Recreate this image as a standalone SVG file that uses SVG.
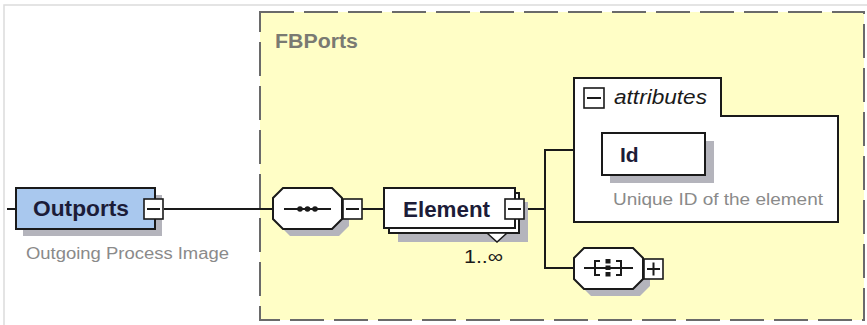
<svg xmlns="http://www.w3.org/2000/svg" width="867" height="325" viewBox="0 0 867 325">
<style>
.ln{stroke:#1a1a1a;stroke-width:2;fill:none}
.box{stroke:#1a1a1a;stroke-width:2;fill:#fff}
.shd{fill:#b4b4bc}
.lbl{font-family:"Liberation Sans",Arial,sans-serif;font-weight:bold;fill:#1c1c38}
.doc{font-family:"Liberation Sans",Arial,sans-serif;font-size:16px;fill:#8a8a8a}
.pm{stroke:#1a1a1a;stroke-width:1.6;fill:#fff}
</style>
<rect width="867" height="325" fill="#fff"/>
<path d="M4,325 V5 H867" stroke="#dcdcdc" stroke-width="1.5" fill="none"/>
<g id="FBPorts">
<rect x="260" y="12" width="604" height="308" fill="#fffec6" stroke="#6a6a6a" stroke-width="2" stroke-dasharray="34,10"/>
<text x="275" y="48" font-family="Liberation Sans,Arial,sans-serif" font-weight="bold" font-size="20" fill="#7a7a72" textLength="83" lengthAdjust="spacingAndGlyphs">FBPorts</text>
</g>
<g id="connectors">
<line class="ln" x1="7" y1="209" x2="16" y2="209"/>
<line class="ln" x1="164" y1="209" x2="273" y2="209"/>
<line class="ln" x1="362" y1="209" x2="384" y2="209"/>
<line class="ln" x1="525" y1="209" x2="545" y2="209"/>
<path class="ln" d="M574,150 H545 V268 H574"/>
</g>
<g id="Outports">
<rect class="shd" x="23" y="195" width="139" height="41"/>
<rect x="16" y="188" width="139" height="41" fill="#a9c8ee" stroke="#1a1a1a" stroke-width="2"/>
<text class="lbl" x="33" y="216" font-size="22" textLength="96" lengthAdjust="spacingAndGlyphs">Outports</text>
<rect class="pm" x="144" y="199" width="19" height="20"/>
<line class="ln" x1="147" y1="209" x2="160" y2="209" stroke-width="1.6"/>
<text class="doc" x="26" y="259" textLength="203" lengthAdjust="spacingAndGlyphs">Outgoing Process Image</text>
</g>
<g id="sequence">
<polygon class="shd" points="290,195 339,195 349,205 349,226 339,236 290,236 280,226 280,205"/>
<polygon class="box" points="283,188 332,188 342,198 342,219 332,229 283,229 273,219 273,198"/>
<line class="ln" x1="284" y1="209" x2="331" y2="209"/>
<circle cx="300" cy="209" r="2.8" fill="#1a1a1a"/>
<circle cx="307.5" cy="209" r="2.8" fill="#1a1a1a"/>
<circle cx="315" cy="209" r="2.8" fill="#1a1a1a"/>
<rect class="pm" x="343" y="199" width="19" height="20"/>
<line class="ln" x1="346" y1="209" x2="359" y2="209" stroke-width="1.6"/>
</g>
<g id="Element">
<rect class="shd" x="398" y="202" width="130" height="40"/>
<rect class="box" x="389" y="193" width="130" height="40"/>
<rect class="box" x="384" y="188" width="131" height="40"/>
<polygon points="487,233 507,233 497,242" fill="#fff" stroke="#1a1a1a" stroke-width="1.5"/>
<text class="lbl" x="403" y="217" font-size="22" textLength="87" lengthAdjust="spacingAndGlyphs">Element</text>
<rect class="pm" x="505" y="199" width="19" height="20"/>
<line class="ln" x1="508" y1="209" x2="521" y2="209" stroke-width="1.6"/>
<text x="464" y="263" font-family="Liberation Sans,Arial,sans-serif" font-size="19" fill="#1a1a1a" textLength="39" lengthAdjust="spacingAndGlyphs">1..∞</text>
</g>
<g id="attributes">
<path class="box" d="M574,222 V78 H721 V116 H838 V222 Z"/>
<rect class="pm" x="584" y="88" width="20" height="20"/>
<line class="ln" x1="587" y1="98" x2="601" y2="98" stroke-width="1.6"/>
<text x="614" y="104" font-family="Liberation Sans,Arial,sans-serif" font-style="italic" font-size="20" fill="#1a1a1a" textLength="93" lengthAdjust="spacingAndGlyphs">attributes</text>
</g>
<g id="Id">
<rect class="shd" x="610" y="141" width="104" height="42"/>
<rect class="box" x="602" y="133" width="103" height="42"/>
<text class="lbl" x="620" y="162" font-size="21">Id</text>
<text class="doc" x="613" y="205" textLength="210" lengthAdjust="spacingAndGlyphs">Unique ID of the element</text>
</g>
<g id="choice">
<polygon class="shd" points="591,255 640,255 650,265 650,286 640,296 591,296 581,286 581,265"/>
<polygon class="box" points="584,248 633,248 643,258 643,279 633,289 584,289 574,279 574,258"/>
<line class="ln" x1="584" y1="268" x2="633" y2="268"/>
<path class="ln" d="M600,261 H595 V275 H600 M595,268 H600"/>
<path class="ln" d="M616,261 H621 V275 H616 M621,268 H616"/>
<rect x="605.5" y="259" width="5" height="4.5" fill="#1a1a1a"/>
<rect x="605.5" y="265.5" width="5" height="4.5" fill="#1a1a1a"/>
<rect x="605.5" y="272" width="5" height="4.5" fill="#1a1a1a"/>
<rect class="pm" x="644" y="259" width="19" height="20"/>
<path class="ln" d="M647,269 H660 M653.5,262.5 V275.5" stroke-width="1.6"/>
</g>
</svg>
